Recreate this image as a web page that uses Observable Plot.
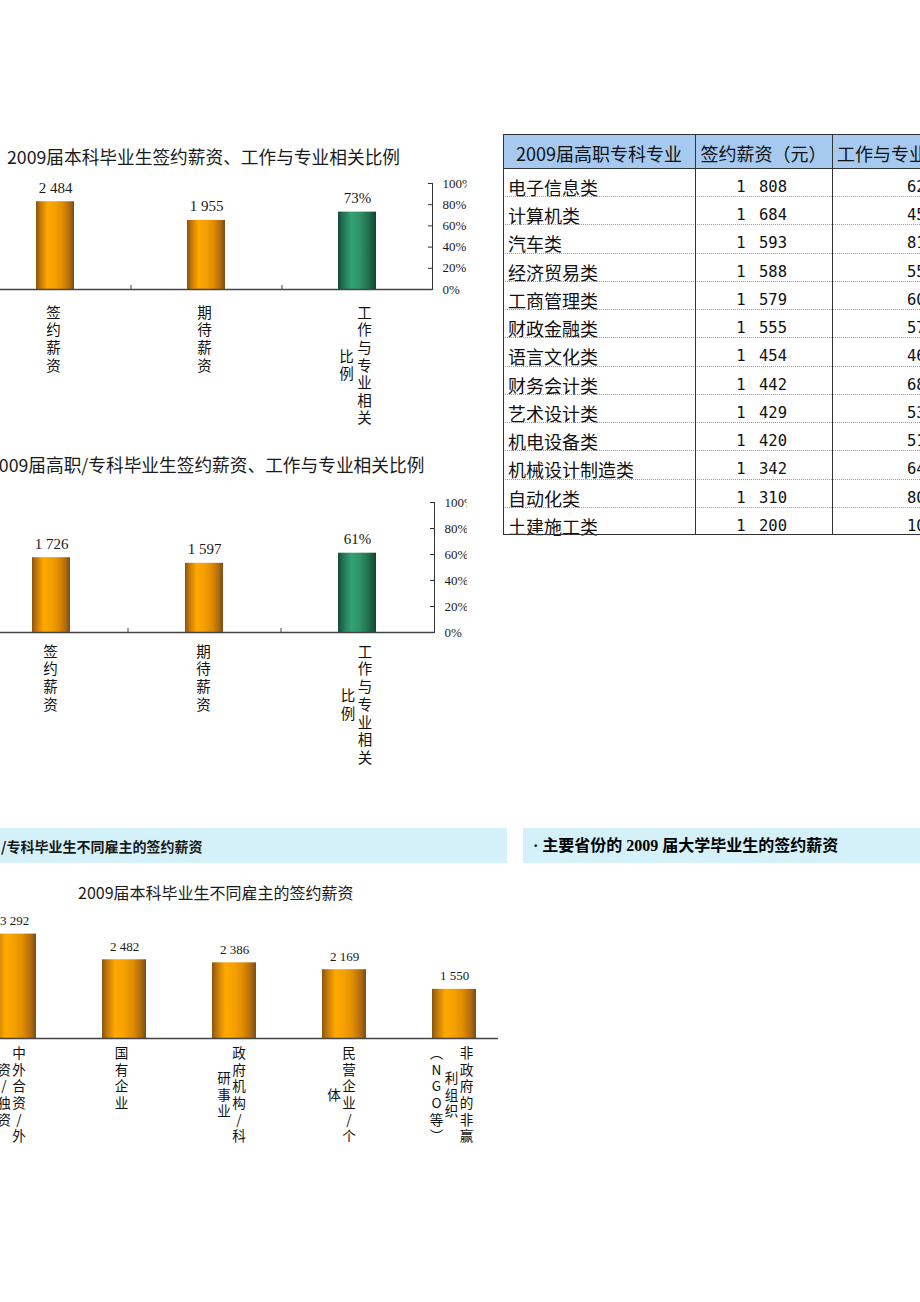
<!DOCTYPE html>
<html><head><meta charset="utf-8">
<script src="https://cdn.jsdelivr.net/npm/d3@7"></script>
<script src="https://cdn.jsdelivr.net/npm/@observablehq/plot@0.6"></script>
<style>
html,body{margin:0;padding:0;background:#fff;}
#page{position:relative;width:920px;height:1302px;overflow:hidden;background:#fff;font-family:"Noto Sans CJK SC",sans-serif;color:#111;}
.clip{position:absolute;overflow:hidden;}
.clip svg{position:absolute;top:0;max-width:none !important;}
.txt{position:absolute;white-space:nowrap;}
.band{position:absolute;background:#d4f1f9;}
.cell{position:absolute;white-space:nowrap;overflow:hidden;}
.hline{position:absolute;height:0;}
.vline{position:absolute;width:0;}
</style></head>
<body>
<svg width="0" height="0" style="position:absolute">
  <defs>
    <linearGradient id="gOrange" x1="0" x2="1" y1="0" y2="0">
      <stop offset="0" stop-color="#8a5410"/>
      <stop offset="0.12" stop-color="#c27a08"/>
      <stop offset="0.3" stop-color="#ffa800"/>
      <stop offset="0.5" stop-color="#f6a000"/>
      <stop offset="0.7" stop-color="#e08c00"/>
      <stop offset="0.88" stop-color="#b06c10"/>
      <stop offset="1" stop-color="#7a4c14"/>
    </linearGradient>
    <linearGradient id="gGreen" x1="0" x2="1" y1="0" y2="0">
      <stop offset="0" stop-color="#164c38"/>
      <stop offset="0.15" stop-color="#23775a"/>
      <stop offset="0.35" stop-color="#34a274"/>
      <stop offset="0.55" stop-color="#2f966a"/>
      <stop offset="0.8" stop-color="#22704f"/>
      <stop offset="1" stop-color="#15442f"/>
    </linearGradient>
  </defs>
</svg>
<div id="page"></div>
<script>
// ---------- data ----------
const wageCategories = ["签约薪资", "期待薪资", "工作与专业相关比例"];
const wageLabelColumns = [["签约薪资"], ["期待薪资"], ["工作与专业相关", "比例"]];
const bachelorWage = [2484, 1955];
const bachelorRelated = 0.73;
const vocationalWage = [1726, 1597];
const vocationalRelated = 0.61;
const percentTicks = [0, 0.2, 0.4, 0.6, 0.8, 1];
const wageAxisMax = 3000;          // hidden left axis of the dual-axis charts

const majors = ["电子信息类", "计算机类", "汽车类", "经济贸易类", "工商管理类", "财政金融类", "语言文化类", "财务会计类", "艺术设计类", "机电设备类", "机械设计制造类", "自动化类", "土建施工类"];
const majorWage = [1808, 1684, 1593, 1588, 1579, 1555, 1454, 1442, 1429, 1420, 1342, 1310, 1200];
const majorRelated = [0.62, 0.45, 0.81, 0.55, 0.60, 0.57, 0.46, 0.68, 0.53, 0.51, 0.64, 0.80, 1.00];
const tableHeaders = ["2009届高职专科专业", "签约薪资（元）", "工作与专业相关度"];

const employers = ["中外合资/外资/独资", "国有企业", "政府机构/科研事业", "民营企业/个体", "非政府的非赢利组织（NGO等）"];
const employerLabelColumns = [["中外合资/外", "资/独资"], ["国有企业"], ["政府机构/科", "研事业"], ["民营企业/个", "体"], ["非政府的非赢", "利组织", "︵NGO等︶"]];
const employerWage = [3292, 2482, 2386, 2169, 1550];
const employerAxisMax = 3500;

const titles = {
  bachelor: "2009届本科毕业生签约薪资、工作与专业相关比例",
  vocational: "2009届高职/专科毕业生签约薪资、工作与专业相关比例",
  employer: "2009届本科毕业生不同雇主的签约薪资",
  bannerLeft: "/专科毕业生不同雇主的签约薪资",
  bannerRight: "· 主要省份的 2009 届大学毕业生的签约薪资"
};

// ---------- helpers ----------
const fmtWage = v => d3.format(",")(v).replace(/,/g, " ");
const fmtPct = d3.format(".0%");
const page = d3.select("#page");
const CJK = '"Noto Sans CJK SC", sans-serif';
const SERIF = '"Liberation Serif", "Noto Sans CJK SC", serif';

function addText(text, {left, centerY, size, weight = 400, family = CJK, color = "#1a1a1a"}) {
  const lh = Math.round(size * 1.3);
  page.append("div").attr("class", "txt").text(text)
    .style("left", left + "px").style("top", (centerY - lh / 2 - 0.056 * size) + "px")
    .style("font-size", size + "px").style("line-height", lh + "px")
    .style("font-weight", weight).style("font-family", family).style("color", color);
}

// vertical (stacked) category labels: one text per character, columns right-to-left,
// shorter columns centred against the longest one
function labelMarks(categories, columns, {labelTop, lineH, colSpacing, dxAdj, fontSize}) {
  return columns.flatMap((cols, i) => {
    const maxLen = d3.max(cols, c => Array.from(c).length);
    return cols.flatMap((col, c) => {
      const chars = Array.from(col);
      return chars.map((ch, r) => Plot.text([categories[i]], {
        x: d => d,
        text: () => ch,
        frameAnchor: "bottom",
        lineAnchor: "top",
        fontSize,
        fontFamily: CJK,
        fill: "#111",
        dx: ((cols.length - 1) / 2 - c) * colSpacing + dxAdj,
        dy: labelTop + ((maxLen - chars.length) / 2 + r) * lineH
      }));
    });
  });
}

function place(svg, {svgLeft, svgTop, svgWidth, svgHeight, clipWidth}) {
  const div = page.append("div").attr("class", "clip")
    .style("left", "0px").style("top", svgTop + "px")
    .style("width", clipWidth + "px").style("height", svgHeight + "px");
  svg.style.left = svgLeft + "px";
  svg.style.maxWidth = "none";
  svg.style.width = svgWidth + "px";
  svg.style.height = svgHeight + "px";
  div.node().appendChild(svg);
}

function dualChart(wages, related, L) {
  const marginLeft = L.frameLeft - L.svgLeft;
  const marginRight = L.svgWidth - (L.frameRight - L.svgLeft);
  const marginTop = L.frameTop - L.svgTop;
  const marginBottom = L.svgHeight - (L.frameBottom - L.svgTop);
  const frameW = L.frameRight - L.frameLeft;
  const frameH = L.frameBottom - L.frameTop;
  const step = frameW / wageCategories.length;
  const wageRows = wages.map((v, i) => ({cat: wageCategories[i], y: v / wageAxisMax, label: fmtWage(v)}));
  const ratioRows = [{cat: wageCategories[wages.length], y: related, label: fmtPct(related)}];
  const svg = Plot.plot({
    width: L.svgWidth, height: L.svgHeight,
    marginLeft, marginRight, marginTop, marginBottom,
    style: {fontFamily: SERIF, fontSize: "13px", color: "#1a1a1a", background: "none", overflow: "visible"},
    x: {domain: wageCategories, paddingInner: 0.75, paddingOuter: 0.375, axis: null},
    y: {domain: [0, 1], axis: null},
    marks: [
      Plot.barY(wageRows, {x: "cat", y: "y", fill: "url(#gOrange)"}),
      Plot.barY(ratioRows, {x: "cat", y: "y", fill: "url(#gGreen)"}),
      Plot.text([...wageRows, ...ratioRows], {x: "cat", y: "y", text: "label", lineAnchor: "bottom", dy: -9, fontSize: 15, fontFamily: SERIF, fill: "#1a1a1a"}),
      Plot.axisY({anchor: "right", ticks: percentTicks, tickFormat: fmtPct, tickSize: 0, tickPadding: 10, fontSize: 13, fontFamily: SERIF, fill: "#1a1a1a", label: null}),
      Plot.frame({anchor: "right", stroke: "#333"}),
      Plot.tickY(percentTicks, {y: d => d, insetLeft: frameW - 4, stroke: "#333"}),
      Plot.ruleY([0], {stroke: "#444", strokeWidth: 1.5}),
      Plot.tickX(wageCategories.slice(1), {x: d => d, dx: -step / 2, insetTop: frameH - 4, stroke: "#444"}),
      ...labelMarks(wageCategories, wageLabelColumns, L.labels)
    ]
  });
  place(svg, L);
}

// ---------- chart 1: bachelor ----------
addText(titles.bachelor, {left: 7, centerY: 157, size: 17.7});
dualChart(bachelorWage, bachelorRelated, {
  svgLeft: -40, svgTop: 170, svgWidth: 520, svgHeight: 270, clipWidth: 467,
  frameLeft: -21, frameRight: 432, frameTop: 183, frameBottom: 289,
  labels: {labelTop: 18, lineH: 17.6, colSpacing: 18, dxAdj: -2, fontSize: 14.5}
});

// ---------- chart 2: vocational ----------
addText(titles.vocational, {left: -11, centerY: 465, size: 17.7});
dualChart(vocationalWage, vocationalRelated, {
  svgLeft: -40, svgTop: 490, svgWidth: 520, svgHeight: 290, clipWidth: 467,
  frameLeft: -25, frameRight: 434, frameTop: 502, frameBottom: 632,
  labels: {labelTop: 14, lineH: 17.7, colSpacing: 17, dxAdj: -1, fontSize: 14.5}
});

// ---------- table ----------
(function table() {
  const left = 503, top = 134, headH = 34, rowH = 28.23;
  const colX = [503, 695, 832, 986];
  const bottom = top + headH + rowH * majors.length;
  page.append("div").attr("class", "band")
    .style("left", left + "px").style("top", top + "px")
    .style("width", (colX[3] - left) + "px").style("height", headH + "px")
    .style("background", "#a6c9ef");
  tableHeaders.forEach((h, j) => {
    page.append("div").attr("class", "cell").text(h)
      .style("left", (colX[j] - 8) + "px").style("width", (colX[j + 1] - colX[j] + 16) + "px")
      .style("top", (top + 7) + "px").style("line-height", "24px")
      .style("font-size", "18px").style("text-align", "center").style("color", "#111");
  });
  majors.forEach((m, i) => {
    const rt = top + headH + i * rowH;
    page.append("div").attr("class", "cell").text(m)
      .style("left", (left + 5) + "px").style("top", (rt + 7) + "px")
      .style("line-height", "24px").style("font-size", "18px").style("color", "#111");
    page.append("div").attr("class", "cell").text(fmtWage(majorWage[i]))
      .style("left", colX[1] + "px").style("width", (787 - colX[1]) + "px").style("text-align", "right")
      .style("top", (rt + 7) + "px").style("line-height", "24px")
      .style("font-family", '"DejaVu Sans Mono", monospace').style("font-size", "15.5px")
      .style("word-spacing", "4px").style("color", "#111");
    page.append("div").attr("class", "cell").text(fmtPct(majorRelated[i]))
      .style("left", "907px").style("top", (rt + 7) + "px").style("line-height", "24px")
      .style("font-family", '"DejaVu Sans Mono", monospace').style("font-size", "15.5px").style("color", "#111");
    if (i > 0) {
      page.append("div").attr("class", "hline")
        .style("left", left + "px").style("top", rt + "px").style("width", (colX[3] - left) + "px")
        .style("border-top", "1.5px dotted #9a9a9a");
    }
  });
  page.append("div").attr("class", "hline")
    .style("left", left + "px").style("top", (top + headH) + "px").style("width", (colX[3] - left) + "px")
    .style("border-top", "1.5px solid #333");
  page.append("div").style("position", "absolute")
    .style("left", left + "px").style("top", top + "px")
    .style("width", (colX[3] - left) + "px").style("height", (bottom - top) + "px")
    .style("border", "1.5px solid #333").style("box-sizing", "border-box");
  [colX[1], colX[2]].forEach(x => {
    page.append("div").attr("class", "vline")
      .style("left", x + "px").style("top", top + "px").style("height", (bottom - top) + "px")
      .style("border-left", "1.5px solid #333");
  });
})();

// ---------- banners ----------
page.append("div").attr("class", "band").style("left", "0px").style("top", "828px").style("width", "507px").style("height", "35px");
page.append("div").attr("class", "band").style("left", "523px").style("top", "828px").style("width", "400px").style("height", "35px");
addText(titles.bannerLeft, {left: 1, centerY: 847, size: 14, weight: 700});
addText(titles.bannerRight, {left: 533, centerY: 846, size: 16, weight: 700, family: SERIF, color: "#000"});

// ---------- chart 4: employers ----------
addText(titles.employer, {left: 78, centerY: 893, size: 16});
(function employerChart() {
  const L = {svgLeft: -60, svgTop: 905, svgWidth: 600, svgHeight: 255, clipWidth: 510,
             frameLeft: -41, frameRight: 509, frameTop: 927, frameBottom: 1038};
  const rows = employers.map((e, i) => ({cat: e, wage: employerWage[i], label: fmtWage(employerWage[i])}));
  const svg = Plot.plot({
    width: L.svgWidth, height: L.svgHeight,
    marginLeft: L.frameLeft - L.svgLeft,
    marginRight: L.svgWidth - (L.frameRight - L.svgLeft),
    marginTop: L.frameTop - L.svgTop,
    marginBottom: L.svgHeight - (L.frameBottom - L.svgTop),
    style: {fontFamily: SERIF, fontSize: "13px", color: "#1a1a1a", background: "none", overflow: "visible"},
    x: {domain: employers, paddingInner: 0.6, paddingOuter: 0.3, axis: null},
    y: {domain: [0, employerAxisMax], axis: null},
    marks: [
      Plot.barY(rows, {x: "cat", y: "wage", fill: "url(#gOrange)"}),
      Plot.text(rows, {x: "cat", y: "wage", text: "label", lineAnchor: "bottom", dy: -9, fontSize: 13, fontFamily: SERIF, fill: "#1a1a1a"}),
      Plot.ruleY([0], {stroke: "#444", strokeWidth: 1.5, insetRight: 11}),
      ...labelMarks(employers, employerLabelColumns, {labelTop: 10, lineH: 16.6, colSpacing: 15, dxAdj: -3, fontSize: 13.6})
    ]
  });
  place(svg, L);
})();
</script>
</body></html>
